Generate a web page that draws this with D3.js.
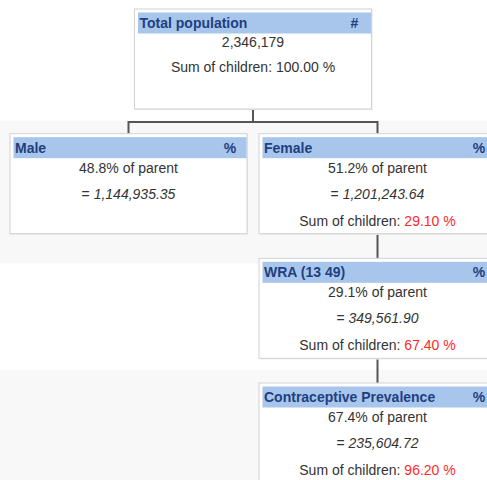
<!DOCTYPE html>
<html><head><meta charset="utf-8">
<script src="https://cdn.jsdelivr.net/npm/d3@7"></script>
<style>body{margin:0;background:#fff;overflow:hidden}svg{display:block}</style>
</head><body>
<script>
// ---- data ----
const nodeNames   = ["Total population", "Male", "Female", "WRA (13 49)", "Contraceptive Prevalence"];
const nodeParents = [null, "Total population", "Total population", "Female", "WRA (13 49)"];
const nodeUnits   = ["#", "%", "%", "%", "%"];
const pctOfParent = [null, "48.8%", "51.2%", "29.1%", "67.4%"];
const nodeValues  = ["2,346,179", "1,144,935.35", "1,201,243.64", "349,561.90", "235,604.72"];
const sumChildren = ["100.00 %", null, "29.10 %", "67.40 %", "96.20 %"];

const W = 487, H = 480;
const svg = d3.select("body").append("svg").attr("width", W).attr("height", H)
  .style("font-family", "'Liberation Sans', Arial, sans-serif");

const table = nodeNames.map((n, i) => ({
  id: n, parent: nodeParents[i], unit: nodeUnits[i], pct: pctOfParent[i],
  value: nodeValues[i], sum: sumChildren[i], root: i === 0
}));
const root = d3.stratify().id(d => d.id).parentId(d => d.parent)(table);
d3.tree().nodeSize([1, 1]).separation(() => 1)(root);

const x = d3.scaleLinear().domain([0, 1]).range([253, 502]);
const y = d3.scaleLinear().domain([0, 3]).range([9, 383]);
const boxW = 237, boxH = 100, hdrH = 21;

// alternating row bands
const depths = d3.range(0, 4);
svg.selectAll("rect.band").data(depths.filter(d => d % 2 === 1)).join("rect")
  .attr("class", "band")
  .attr("x", 0).attr("width", W)
  .attr("y", d => y(d) - 13)
  .attr("height", d => (d + 1 <= 3 ? y(d + 1) + 5 : H + 20) - (y(d) - 13))
  .attr("fill", "#f8f8f8");

// links (elbow)
const links = root.links();
svg.selectAll("path.link").data(links).join("path")
  .attr("class", "link")
  .attr("fill", "none").attr("stroke", "#555").attr("stroke-width", 2)
  .attr("d", l => {
    const sx = x(l.source.x), sy = y(l.source.depth) + boxH + 1;
    const tx = x(l.target.x), ty = y(l.target.depth);
    const my = (l.source.children.length > 1) ? sy + 12 : ty;
    return `M${sx},${sy}V${my}H${tx}V${ty}`;
  });

// nodes
const g = svg.selectAll("g.node").data(root.descendants()).join("g")
  .attr("class", "node")
  .attr("transform", d => `translate(${x(d.x) - boxW / 2},${y(d.depth)})`);

g.append("rect").attr("x", 1).attr("y", 1).attr("width", boxW).attr("height", boxH)
  .attr("fill", "#e6e6e6");
g.append("rect").attr("width", boxW).attr("height", boxH)
  .attr("fill", "#fff").attr("stroke", "#d2d2d2").attr("stroke-width", 1);
g.append("rect").attr("x", 3.5).attr("y", 3.5).attr("width", boxW - 4).attr("height", hdrH)
  .attr("fill", "#a8c6ec");
g.append("text").attr("x", 5).attr("y", 19)
  .attr("font-size", 14).attr("font-weight", "bold").attr("fill", "#1f3f7f")
  .text(d => d.data.id);
g.append("text").attr("x", boxW - 17).attr("y", 19)
  .attr("text-anchor", "middle")
  .attr("font-size", 14).attr("font-weight", "bold").attr("fill", "#1f3f7f")
  .text(d => d.data.unit);

const cx = boxW / 2;
g.each(function(d) {
  const s = d3.select(this);
  let lines = [];
  if (d.data.root) {
    lines.push({t: d.data.value, italic: false});
  } else {
    lines.push({t: d.data.pct + " of parent"});
    lines.push({pre: "= ", t: d.data.value, italic: true});
  }
  if (d.data.sum) lines.push({sum: d.data.sum});
  const ys = d.data.root ? [38, 63] : [39, 65, 92];
  lines.forEach((ln, i) => {
    const t = s.append("text").attr("x", cx).attr("y", ys[i])
      .attr("text-anchor", "middle").attr("font-size", 14).attr("fill", "#333");
    if (ln.sum) {
      t.append("tspan").text("Sum of children: ");
      t.append("tspan").attr("fill", d.data.root ? "#333" : "#ff2a2a").text(ln.sum);
    } else if (ln.italic) {
      t.append("tspan").text(ln.pre);
      t.append("tspan").attr("font-style", "italic").text(ln.t);
    } else {
      t.text(ln.t);
    }
  });
});
</script>
</body></html>
